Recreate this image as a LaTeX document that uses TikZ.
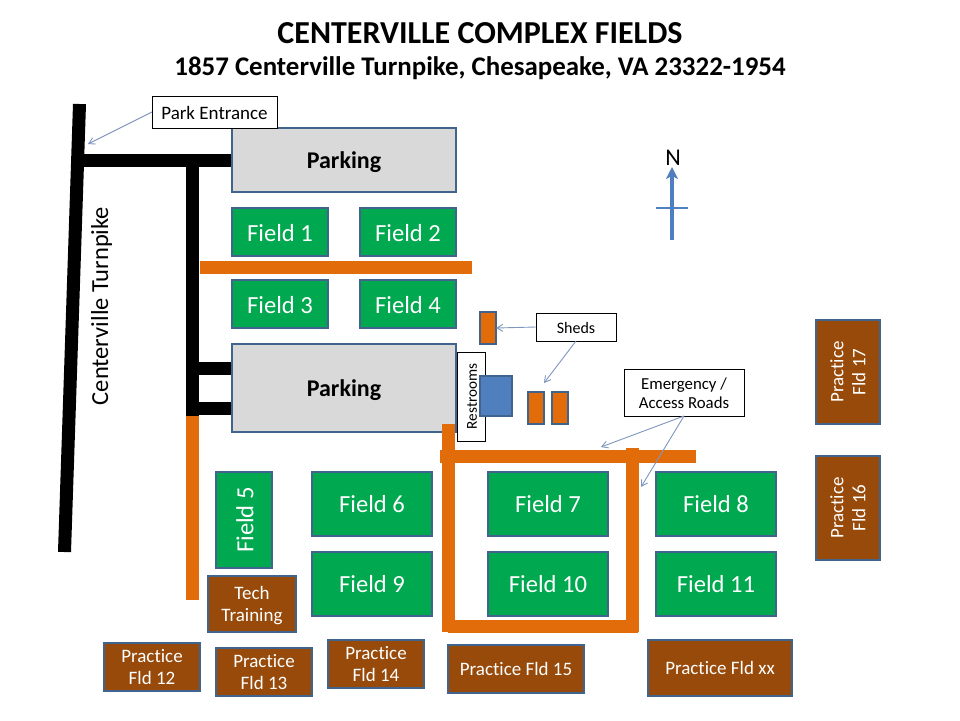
\documentclass[tikz,border=0pt]{standalone}
\usepackage{fontspec}
\setmainfont[Ligatures=NoCommon]{Carlito}
\usetikzlibrary{arrows.meta}
\definecolor{fgreen}{HTML}{00A84F}
\definecolor{fbrown}{HTML}{974A0A}
\definecolor{forange}{HTML}{E36C0A}
\definecolor{fgray}{HTML}{D9D9D9}
\definecolor{fedge}{HTML}{41648F}
\definecolor{fblue}{HTML}{4F7FBF}
\definecolor{farrow}{HTML}{7F97BD}
\tikzset{
  area/.style={draw=fedge,line width=2pt,inner sep=0pt,outer sep=0pt,align=center},
  fieldbox/.style={area,fill=fgreen,text=white,font=\fontsize{24.6}{28}\selectfont},
  parkbox/.style={area,fill=fgray,text=black,font=\fontsize{24}{28}\selectfont\bfseries},
  practicebox/.style={area,fill=fbrown,text=white,font=\fontsize{19}{22}\selectfont},
  shedbox/.style={area,fill=forange},
  restbox/.style={area,fill=fblue},
  callout/.style={draw=black,line width=0.8pt,fill=white,text=black,inner sep=0pt,outer sep=0pt,align=center,font=\fontsize{16.8}{19}\selectfont},
  blackroad/.style={line width=13pt,draw=black},
  orangeroad/.style={line width=13pt,draw=forange},
  pointer/.style={draw=farrow,line width=0.9pt,-{Straight Barb[length=6pt,width=7pt]}},
  northline/.style={draw=fblue,line width=3.5pt},
  northbar/.style={draw=fblue,line width=2.5pt}
}
\newcommand{\bx}[7]{%
  \pgfmathsetmacro{\bxw}{#5-#3}\pgfmathsetmacro{\bxh}{#6-#4}%
  \pgfmathsetmacro{\bxcx}{(#3+#5)/2}\pgfmathsetmacro{\bxcy}{(#4+#6)/2}%
  \node[#1,minimum width=\bxw pt,minimum height=\bxh pt] (#2) at (\bxcx,\bxcy) {#7};}
\newcommand{\twolines}[2]{\begin{tabular}{@{}c@{}}#1\\#2\end{tabular}}
\newcommand{\dn}[2]{\raisebox{-#1pt}[\height][\depth]{#2}}
\begin{document}
\begin{tikzpicture}[x=1pt,y=-1pt]
\useasboundingbox (0,0) rectangle (960,720);
\fill[white] (0,0) rectangle (960,720);
\node[font=\fontsize{32}{36}\selectfont\bfseries] (title) at (480,33) {CENTERVILLE COMPLEX FIELDS};
\node[font=\fontsize{26.9}{30}\selectfont\bfseries] (subtitle) at (480,68.5) {1857 Centerville Turnpike, Chesapeake, VA 23322-1954};
% roads
\coordinate (tpa) at (79.5,104); \coordinate (tpb) at (64.5,552);
\coordinate (ea) at (80,160); \coordinate (eb) at (232,160);
\coordinate (va) at (192,160); \coordinate (vb) at (192,416); \coordinate (vc) at (192,600);
\coordinate (s1a) at (192,368.5); \coordinate (s1b) at (232,368.5);
\coordinate (s2a) at (192,408.5); \coordinate (s2b) at (232,408.5);
\draw[blackroad] (tpa) -- (tpb);
\draw[blackroad] (ea) -- (eb);
\draw[blackroad] (va) -- (vb);
\draw[blackroad] (s1a) -- (s1b);
\draw[blackroad] (s2a) -- (s2b);
\draw[orangeroad] (vb) -- (vc);
% parking and fields
\bx{parkbox}{p1}{232}{128}{456}{192}{\dn{2}{Parking}}
\bx{parkbox}{p2}{232}{344}{456}{432}{\dn{2}{Parking}}
\bx{fieldbox}{f1}{232}{208}{328}{256}{\dn{1}{Field 1}}
\bx{fieldbox}{f2}{360}{208}{456}{256}{\dn{1}{Field 2}}
\bx{fieldbox}{f3}{232}{280}{328}{328}{\dn{1}{Field 3}}
\bx{fieldbox}{f4}{360}{280}{456}{328}{\dn{1}{Field 4}}
\bx{fieldbox}{f5}{216}{472}{272}{568}{\rotatebox{90}{\dn{1}{Field 5}}}
\bx{fieldbox}{f6}{312}{472}{432}{536}{Field 6}
\bx{fieldbox}{f7}{488}{472}{608}{536}{Field 7}
\bx{fieldbox}{f8}{656}{472}{776}{536}{Field 8}
\bx{fieldbox}{f9}{312}{552}{432}{616}{Field 9}
\bx{fieldbox}{f10}{488}{552}{608}{616}{Field 10}
\bx{fieldbox}{f11}{656}{552}{776}{616}{Field 11}
% orange roads
\draw[orangeroad] (200,267.5) -- (472,267.5);
\draw[orangeroad] (448.5,424) -- (448.5,632);
\draw[orangeroad] (440,456.5) -- (696,456.5);
\draw[orangeroad] (632,448) -- (632,632);
\draw[orangeroad] (448,626.5) -- (638,626.5);
% practice
\bx{practicebox}{tt}{208}{576}{296}{632}{\dn{2}{\twolines{Tech}{Training}}}
\bx{practicebox}{p12}{104}{643}{200}{691}{\dn{2}{\twolines{Practice}{Fld 12}}}
\bx{practicebox}{p13}{216}{648}{312}{696}{\dn{2}{\twolines{Practice}{Fld 13}}}
\bx{practicebox}{p14}{328}{640}{424}{688}{\dn{2}{\twolines{Practice}{Fld 14}}}
\bx{practicebox}{p15}{448}{645}{584}{693}{Practice Fld 15}
\bx{practicebox}{pxx}{648}{640}{792}{696}{Practice Fld xx}
\bx{practicebox}{p17}{816}{320}{880}{424}{\rotatebox{90}{\dn{2}{\twolines{Practice}{Fld 17}}}}
\bx{practicebox}{p16}{816}{456}{880}{560}{\rotatebox{90}{\dn{2}{\twolines{Practice}{Fld 16}}}}
% callouts
\bx{callout}{ent}{152}{96}{277}{128}{\fontsize{19}{22}\selectfont\dn{1}{Park Entrance}}
\bx{callout}{shl}{536}{313}{616}{341}{\fontsize{16}{19}\selectfont\dn{1}{Sheds}}
\bx{callout}{rest}{457}{352}{485}{441}{\rotatebox{90}{\fontsize{15.2}{17}\selectfont\dn{1}{Restrooms}}}
\bx{callout}{emg}{624}{369}{744}{416}{\dn{3}{\twolines{Emergency /}{Access Roads}}}
% buildings
\bx{shedbox}{sh1}{480}{312}{496}{344}{}
\bx{restbox}{wc}{480}{376}{512}{416}{}
\bx{shedbox}{sh2}{528}{392}{544}{424}{}
\bx{shedbox}{sh3}{552}{392}{568}{424}{}
\coordinate (tEnt) at (88,144);
\coordinate (tSh) at (544,383);
\coordinate (tR1) at (601,447);
\coordinate (tR2) at (641,487);
\draw[pointer] (ent.west) -- (tEnt);
\draw[pointer] (shl.west) -- (sh1.east);
\draw[pointer] (shl.south) -- (tSh);
\draw[pointer] (emg.south) -- (tR1);
\draw[pointer] (emg.south) -- (tR2);
% road name
\node[rotate=90,font=\fontsize{24.5}{28}\selectfont] (tpname) at (101.5,306) {Centerville Turnpike};
% north
\coordinate (na) at (672,240); \coordinate (nb) at (672,167);
\coordinate (nc) at (656,208); \coordinate (nd) at (688,208);
\draw[northline,-{Stealth[length=12pt,width=12pt,inset=3pt]}] (na) -- (nb);
\draw[northbar] (nc) -- (nd);
\node[font=\fontsize{24}{28}\selectfont] (north) at (673,157.5) {N};
\end{tikzpicture}
\end{document}
